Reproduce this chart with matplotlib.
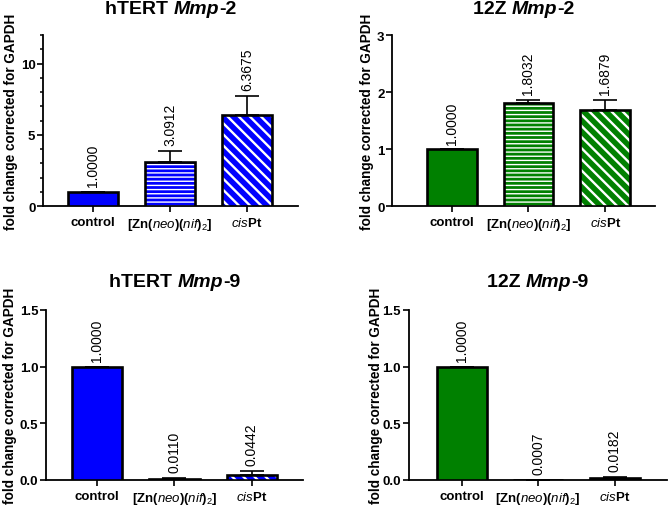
import numpy as np
import matplotlib
matplotlib.use("Agg")
from matplotlib import pyplot as plt
from matplotlib.offsetbox import TextArea, HPacker, AnchoredOffsetbox

plt.rcParams['font.family'] = ['Liberation Sans', 'DejaVu Sans']
plt.rcParams['mathtext.fontset'] = 'custom'
plt.rcParams['mathtext.rm'] = 'Liberation Sans'
plt.rcParams['mathtext.it'] = 'Liberation Sans:italic'
plt.rcParams['mathtext.bf'] = 'Liberation Sans:bold'

# data
groups = ['control', r'$\mathbf{[Zn(}\mathit{neo}\mathbf{)(}\mathit{nif}\mathbf{)}_{\mathrm{2}}\mathbf{]}$',
          r'$\mathit{cis}\mathbf{Pt}$']
value_labels = ['1.0000', '3.0912', '6.3675', '1.0000', '1.8032', '1.6879',
                '1.0000', '0.0110', '0.0442', '1.0000', '0.0007', '0.0182']

htert_mmp2 = [1.0, 3.0912, 6.3675]
htert_mmp2_err = [0.0, 0.78, 1.38]
z12_mmp2 = [1.0, 1.8032, 1.6879]
z12_mmp2_err = [0.0, 0.06, 0.18]
htert_mmp9 = [1.0, 0.0110, 0.0442]
htert_mmp9_err = [0.0, 0.006, 0.036]
z12_mmp9 = [1.0, 0.0007, 0.0182]
z12_mmp9_err = [0.0, 0.0003, 0.008]

blue = '#0000ff'
green = '#008000'
hatches = [None, '----', '\\\\\\']
hatch_lw = [1.0, 1.0, 1.7]

fig = plt.figure(figsize=(6.69, 5.10), dpi=100)

panels = [
    # cell, gene, values, errors, colour, axes rect, xlim, ylim, yticks, minor step, ylabel x, title y, labels
    ('hTERT ', '-2', htert_mmp2, htert_mmp2_err, blue, [0.0643, 0.594, 0.381, 0.3353],
     (-0.65, 2.66), (0, 12), [0, 5, 10], 1, -0.10, 1.105, value_labels[0:3]),
    ('12Z ', '-2', z12_mmp2, z12_mmp2_err, green, [0.586, 0.594, 0.393, 0.3353],
     (-0.78, 2.65), (0, 3), [0, 1, 2, 3], None, -0.07, 1.105, value_labels[3:6]),
    ('hTERT ', '-9', htert_mmp9, htert_mmp9_err, blue, [0.0688, 0.0569, 0.384, 0.3333],
     (-0.66, 2.66), (0, 1.5), [0, 0.5, 1.0, 1.5], None, -0.113, 1.115, value_labels[6:9]),
    ('12Z ', '-9', z12_mmp9, z12_mmp9_err, green, [0.611, 0.0569, 0.386, 0.3333],
     (-0.69, 2.68), (0, 1.5), [0, 0.5, 1.0, 1.5], None, -0.10, 1.115, value_labels[9:12]),
]

for cell, gene, vals, errs, col, rect, xl, yl, yt, minor, labx, ty, labs in panels:
    ax = fig.add_axes(rect)
    x = np.arange(len(vals))
    # error bars (upper only)
    ax.errorbar(x, vals, yerr=[np.zeros(len(errs)), errs], fmt='none', ecolor='black',
                elinewidth=1.2, capsize=8.5, capthick=1.2, zorder=2)
    for i in range(len(vals)):
        plt.rcParams['hatch.linewidth'] = hatch_lw[i]
        ax.bar(x[i], vals[i], width=0.65, color=col, edgecolor='white', linewidth=0,
               hatch=hatches[i], zorder=3)
        ax.bar(x[i], vals[i], width=0.65, fill=False, edgecolor='black', linewidth=1.9, zorder=4)
        ax.annotate(labs[i], (x[i], vals[i] + errs[i]), xytext=(0, 4), textcoords='offset points',
                    rotation=90, ha='center', va='bottom', fontsize=10)
    ax.set_xlim(*xl)
    ax.set_ylim(*yl)
    ax.set_yticks(yt)
    if minor:
        ax.set_yticks(np.arange(0, yl[1] + 0.5, minor), minor=True)
    ax.set_xticks(x)
    ax.set_xticklabels(groups)
    for t in ax.get_xticklabels() + ax.get_yticklabels():
        t.set_fontweight('bold')
    ax.tick_params(axis='both', which='major', direction='out', length=4, width=1.2,
                   labelsize=9.5, pad=1.5)
    ax.tick_params(axis='x', which='major', pad=3.5)
    ax.tick_params(axis='y', which='minor', length=2.5, width=1.1)
    for s in ['top', 'right']:
        ax.spines[s].set_visible(False)
    for s in ['left', 'bottom']:
        ax.spines[s].set_linewidth(1.3)
    ax.set_ylabel('fold change corrected for GAPDH', fontsize=9.8, fontweight='bold')
    ax.yaxis.set_label_coords(labx, 0.5)

    # title: cell line, italic gene name, number
    parts = [TextArea(cell, textprops=dict(fontsize=14, fontweight='bold')),
             TextArea('Mmp', textprops=dict(fontsize=14, fontweight='bold', style='italic')),
             TextArea(gene, textprops=dict(fontsize=14, fontweight='bold'))]
    box = HPacker(children=parts, align='baseline', pad=0, sep=0)
    anc = AnchoredOffsetbox(loc='lower center', child=box, pad=0, borderpad=0, frameon=False,
                            bbox_to_anchor=(0.5, ty), bbox_transform=ax.transAxes)
    ax.add_artist(anc)

fig.savefig('out.png', dpi=100)
